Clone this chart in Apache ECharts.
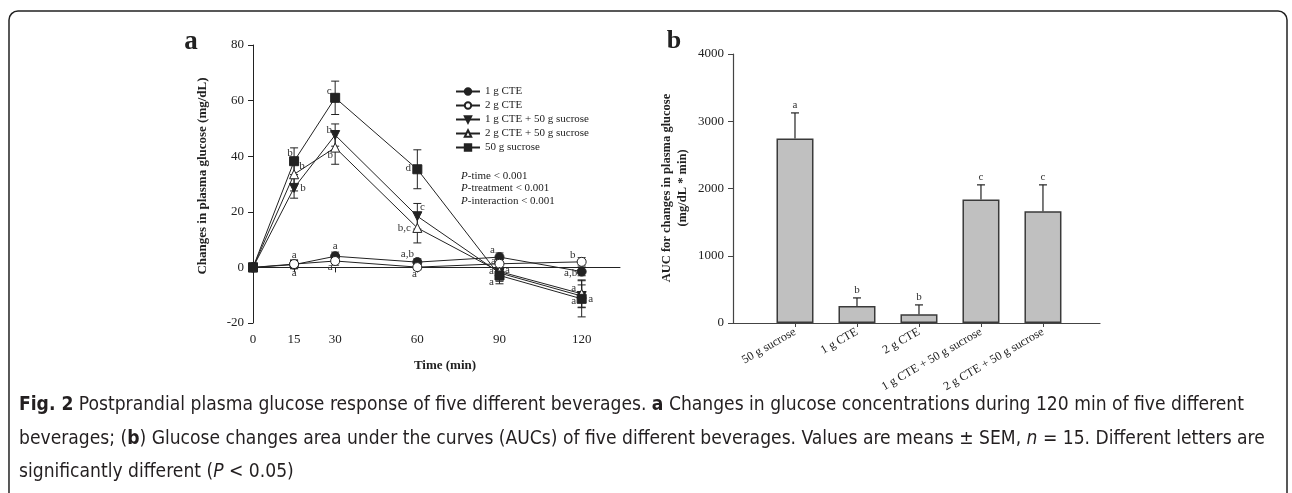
<!DOCTYPE html>
<html>
<head>
<meta charset="utf-8">
<script src="https://cdn.jsdelivr.net/npm/echarts@6/dist/echarts.min.js"></script>
<style>
  html, body { margin: 0; padding: 0; background: #fff; }
  #main { width: 1292px; height: 493px; }
</style>
</head>
<body>
<div id="main"></div>
<script>
// panel a: glucose change over time
const times = [0, 15, 30, 60, 90, 120];
const seriesNames = ['1 g CTE', '2 g CTE', '1 g CTE + 50 g sucrose', '2 g CTE + 50 g sucrose', '50 g sucrose'];
const cte1 = [0, 1.0, 4.0, 1.9, 3.7, -1.5];
const cte1Sem = [0, 1.5, 1.5, 1.2, 1.5, 1.5];
const cte2 = [0, 1.2, 2.3, 0.1, 1.3, 2.0];
const cte2Sem = [0, 1.5, 1.5, 1.0, 1.5, 1.5];
const cte1Suc = [0, 28.6, 47.6, 18.4, -2.0, -10.3];
const cte1SucSem = [0, 3.7, 4.0, 4.6, 3.0, 4.0];
const cte2Suc = [0, 33.5, 43.1, 14.2, -1.5, -9.5];
const cte2SucSem = [0, 6.0, 6.0, 5.4, 3.0, 5.0];
const sucrose = [0, 38.2, 61.0, 35.3, -2.9, -11.3];
const sucroseSem = [0, 4.8, 6.0, 7.0, 3.0, 6.5];
const cte1Letters = ['', 'a', 'a', 'a,b', 'a', 'a,b'];
const cte2Letters = ['', 'a', 'a', 'a', 'a', 'b'];
const cte1SucLetters = ['', 'b', 'b', 'c', 'a', 'a'];
const cte2SucLetters = ['', 'b', 'b', 'b,c', 'a', 'a'];
const sucroseLetters = ['', 'b', 'c', 'd', 'a', 'a'];
const timeTicks = [0, 15, 30, 60, 90, 120];

// panel b: AUC
const barCats = ['50 g sucrose', '1 g CTE', '2 g CTE', '1 g CTE + 50 g sucrose', '2 g CTE + 50 g sucrose'];
const aucVals = [2744, 253, 129, 1836, 1662];
const aucSem = [380, 120, 140, 218, 392];
const aucLetters = ['a', 'b', 'b', 'c', 'c'];

const SERIF = "'Liberation Serif', 'Times New Roman', serif";
const INK = '#222';

// where each letter sits relative to its point (px)
const letterOffsets = [
  [[0, 0], [0, -10], [0, -10], [-10, -8], [-7, -7], [-11, 2]],
  [[0, 0], [0, 9], [-5, 6], [-3, 7], [-6, -3], [-9, -7]],
  [[0, 0], [9, 0], [-6, -5], [5, -9], [8, -3], [-8, 5]],
  [[0, 0], [8, -8], [-5, 8], [-13, 0], [-8, 0], [-8, -6]],
  [[0, 0], [-4, -8], [-6, -7], [-9, -1], [-8, 7], [9, 0]]
];

const lineVals = [cte1, cte2, cte1Suc, cte2Suc, sucrose];
const lineSems = [cte1Sem, cte2Sem, cte1SucSem, cte2SucSem, sucroseSem];
const lineLetters = [cte1Letters, cte2Letters, cte1SucLetters, cte2SucLetters, sucroseLetters];
const symbols = ['circle', 'circle', 'triangle', 'triangle', 'rect'];
const filled = [true, false, true, false, true];
const rotates = [0, 0, 180, 0, 0];
const sizes = [9, 9, 9, 9, 9];

let chart = echarts.init(document.getElementById('main'));

let series = [];
lineVals.forEach(function (vals, k) {
  series.push({
    name: seriesNames[k],
    type: 'line',
    xAxisIndex: 0,
    yAxisIndex: 0,
    z: 3,
    data: times.map((t, i) => [t, vals[i]]),
    symbol: symbols[k],
    symbolSize: sizes[k],
    symbolRotate: rotates[k],
    showAllSymbol: true,
    lineStyle: { color: INK, width: 1 },
    itemStyle: { color: filled[k] ? INK : '#fff', borderColor: INK, borderWidth: 1 },
    emphasis: { disabled: true },
    animation: false
  });
  const sems = lineSems[k], letters = lineLetters[k], offs = letterOffsets[k];
  series.push({
    type: 'custom',
    xAxisIndex: 0,
    yAxisIndex: 0,
    z: 2,
    silent: true,
    animation: false,
    encode: { x: 0, y: 1 },
    data: times.map((t, i) => [t, vals[i], sems[i], i]),
    renderItem: function (params, api) {
      const t = api.value(0), v = api.value(1), s = api.value(2), i = api.value(3);
      const p = api.coord([t, v]);
      const hi = api.coord([t, v + s]);
      const lo = api.coord([t, v - s]);
      const kids = [];
      if (s > 0) {
        kids.push({ type: 'line', shape: { x1: p[0], y1: hi[1], x2: p[0], y2: lo[1] }, style: { stroke: INK, lineWidth: 1 } });
        kids.push({ type: 'line', shape: { x1: p[0] - 4, y1: hi[1], x2: p[0] + 4, y2: hi[1] }, style: { stroke: INK, lineWidth: 1 } });
        kids.push({ type: 'line', shape: { x1: p[0] - 4, y1: lo[1], x2: p[0] + 4, y2: lo[1] }, style: { stroke: INK, lineWidth: 1 } });
      }
      if (letters[i]) {
        kids.push({
          type: 'text',
          x: p[0] + offs[i][0],
          y: p[1] + offs[i][1],
          style: { text: letters[i], fill: '#333', font: '11px ' + SERIF, align: 'center', verticalAlign: 'middle' }
        });
      }
      return { type: 'group', children: kids };
    }
  });
});

series.push({
  type: 'bar',
  xAxisIndex: 1,
  yAxisIndex: 1,
  data: aucVals.map((v, i) => [i + 1, v]),
  barWidth: 37,
  itemStyle: { color: '#c0c0c0', borderColor: '#3a3a3a', borderWidth: 1.5 },
  emphasis: { disabled: true },
  animation: false
});
series.push({
  type: 'custom',
  xAxisIndex: 1,
  yAxisIndex: 1,
  z: 3,
  silent: true,
  animation: false,
  encode: { x: 0, y: 1 },
  data: aucVals.map((v, i) => [i + 1, v, aucSem[i], i]),
  renderItem: function (params, api) {
    const x = api.value(0), v = api.value(1), s = api.value(2), i = api.value(3);
    const p = api.coord([x, v]);
    const hi = api.coord([x, v + s]);
    return {
      type: 'group',
      children: [
        { type: 'line', shape: { x1: p[0], y1: p[1], x2: p[0], y2: hi[1] }, style: { stroke: INK, lineWidth: 1.2 } },
        { type: 'line', shape: { x1: p[0] - 4, y1: hi[1], x2: p[0] + 4, y2: hi[1] }, style: { stroke: INK, lineWidth: 1.2 } },
        { type: 'text', x: p[0], y: hi[1] - 8, style: { text: aucLetters[i], fill: '#333', font: '11px ' + SERIF, align: 'center', verticalAlign: 'middle' } }
      ]
    };
  }
});

function titleText(x, y, text, size, rot) {
  return {
    type: 'text', x: x, y: y, rotation: rot || 0, silent: true,
    style: { text: text, fill: INK, font: 'bold ' + size + 'px ' + SERIF, align: 'center', verticalAlign: 'middle' }
  };
}

const capFont = "'Liberation Sans Narrow', 'DejaVu Sans Condensed', 'Liberation Sans', sans-serif";
const CAP_SIZE = 19.1;
const capRich = {
  b: { fontWeight: 'bold', fontSize: CAP_SIZE, fontFamily: capFont, fill: '#231f20' },
  i: { fontStyle: 'italic', fontSize: CAP_SIZE, fontFamily: capFont, fill: '#231f20' }
};
function capLine(y, text) {
  return {
    type: 'text', x: 19, y: y, silent: true,
    style: { text: text, rich: capRich, fontSize: CAP_SIZE, fontFamily: capFont, fill: '#231f20', verticalAlign: 'middle' }
  };
}

const pRich = { i: { fontStyle: 'italic', fontSize: 11, fontFamily: SERIF, fill: INK } };
function pLine(y, rest) {
  return {
    type: 'text', x: 461, y: y, silent: true,
    style: { text: '{i|P}' + rest, rich: pRich, fontSize: 11, fontFamily: SERIF, fill: INK, verticalAlign: 'middle' }
  };
}

chart.setOption({
  animation: false,
  grid: [
    { left: 253, top: 45, width: 367, height: 278 },
    { left: 733, top: 54, width: 367, height: 269 }
  ],
  xAxis: [
    {
      gridIndex: 0, type: 'value', min: 0, max: 134,
      axisLine: { lineStyle: { color: INK, width: 1 } },
      axisTick: { customValues: timeTicks, length: 5, lineStyle: { color: INK } },
      axisLabel: { customValues: timeTicks, color: INK, fontFamily: SERIF, fontSize: 13, margin: 10 },
      splitLine: { show: false }
    },
    {
      gridIndex: 1, type: 'value', min: 0, max: 5.92,
      axisLine: { lineStyle: { color: '#444', width: 1.2 } },
      axisTick: { customValues: [1, 2, 3, 4, 5], length: 4, lineStyle: { color: '#444' } },
      axisLabel: {
        customValues: [1, 2, 3, 4, 5], rotate: 30, color: INK, fontFamily: SERIF, fontSize: 12, margin: 8,
        formatter: function (v) { return barCats[v - 1] || ''; }
      },
      splitLine: { show: false }
    }
  ],
  yAxis: [
    {
      gridIndex: 0, type: 'value', min: -20, max: 80, interval: 20,
      axisLine: { show: true, lineStyle: { color: INK, width: 1 } },
      axisTick: { show: true, length: 5, lineStyle: { color: INK } },
      axisLabel: { color: INK, fontFamily: SERIF, fontSize: 13, margin: 9 },
      splitLine: { show: false }
    },
    {
      gridIndex: 1, type: 'value', min: 0, max: 4000, interval: 1000,
      axisLine: { show: true, lineStyle: { color: '#444', width: 1.2 } },
      axisTick: { show: true, length: 5, lineStyle: { color: '#444' } },
      axisLabel: { color: INK, fontFamily: SERIF, fontSize: 13, margin: 9, formatter: v => String(v) },
      splitLine: { show: false }
    }
  ],
  legend: {
    data: seriesNames,
    orient: 'vertical',
    left: 455,
    top: 86,
    itemWidth: 24,
    itemHeight: 8,
    itemGap: 3,
    padding: 0,
    selectedMode: false,
    textStyle: { color: INK, fontFamily: SERIF, fontSize: 11, lineHeight: 11, padding: 0 }
  },
  series: series,
  graphic: [
    {
      type: 'rect', silent: true, z: 0,
      shape: { x: 9, y: 11, width: 1278, height: 620, r: 9 },
      style: { fill: 'none', stroke: '#222', lineWidth: 1.5 }
    },
    titleText(191, 42, 'a', 27),
    titleText(674, 41, 'b', 26),
    titleText(203, 176, 'Changes in plasma glucose (mg/dL)', 13, Math.PI / 2),
    titleText(445, 366, 'Time (min)', 13),
    titleText(667, 188, 'AUC for changes in plasma glucose', 12.5, Math.PI / 2),
    titleText(683, 188, '(mg/dL * min)', 12.5, Math.PI / 2),
    pLine(176, '-time < 0.001'),
    pLine(188, '-treatment < 0.001'),
    pLine(201, '-interaction < 0.001'),
    capLine(405, '{b|Fig. 2} Postprandial plasma glucose response of five different beverages. {b|a} Changes in glucose concentrations during 120 min of five different'),
    capLine(439, 'beverages; ({b|b}) Glucose changes area under the curves (AUCs) of five different beverages. Values are means ± SEM, {i|n} = 15. Different letters are'),
    capLine(472, 'significantly different ({i|P} < 0.05)')
  ]
});

window.addEventListener('resize', () => {
  chart.resize();
});
</script>
</body>
</html>
